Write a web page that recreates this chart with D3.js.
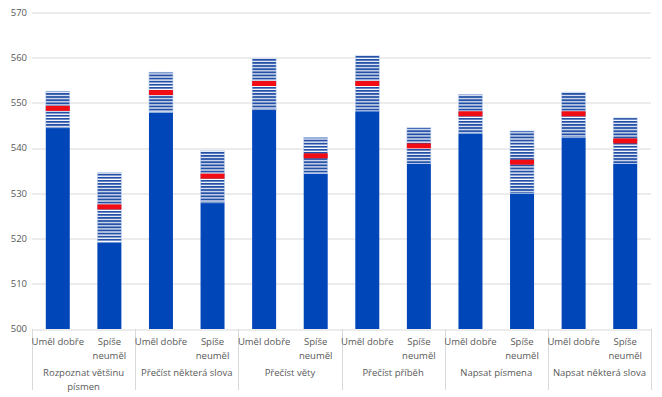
<!DOCTYPE html>
<html>
<head>
<meta charset="utf-8">
<script src="https://cdn.jsdelivr.net/npm/d3@7"></script>
<style>
  body { margin: 0; background: #fff; }
  text { font-family: "Open Sans", "Liberation Sans", sans-serif; fill: #595959; }
</style>
</head>
<body>
<div id="chart"></div>
<script>
// Task groups (two-line labels split with \n)
const tasks = ["Rozpoznat většinu\npísmen", "Přečíst některá slova", "Přečíst věty",
               "Přečíst příběh", "Napsat písmena", "Napsat některá slova"];
const groups = ["Uměl dobře", "Spíše\nneuměl"];

// lower bound, mean, upper bound per task, in the order of groups
const lower = [[544.5, 519.2], [547.9, 527.9], [548.5, 534.4], [548.2, 536.6], [543.3, 530.0], [542.3, 536.6]];
const mean  = [[548.8, 527.0], [552.3, 533.8], [554.3, 538.3], [554.3, 540.5], [547.6, 536.9], [547.6, 541.6]];
const upper = [[552.6, 534.6], [556.8, 539.4], [559.9, 542.4], [560.5, 544.5], [551.9, 543.8], [552.4, 546.7]];

const yTicks = [500, 510, 520, 530, 540, 550, 560, 570];

const margin = { top: 12.5, right: 11, bottom: 68, left: 32 },
      width = 662 - margin.left - margin.right,
      height = 397 - margin.top - margin.bottom;

const svg = d3.select("#chart")
    .append("svg")
    .attr("width", width + margin.left + margin.right)
    .attr("height", height + margin.top + margin.bottom)
    .append("g")
    .attr("transform", `translate(${margin.left},${margin.top})`);

// stripe pattern for the interval part
const defs = svg.append("defs");
const pat = defs.append("pattern")
    .attr("id", "stripes")
    .attr("patternUnits", "userSpaceOnUse")
    .attr("width", 8)
    .attr("height", 3.1);
pat.append("rect").attr("width", 8).attr("height", 3.1).attr("fill", "#ffffff");
pat.append("rect").attr("width", 8).attr("height", 1.9).attr("fill", "#2350a6");

const x0 = d3.scaleBand()
    .domain(tasks)
    .range([0, width]);

const x1 = d3.scalePoint()
    .domain(groups)
    .range([0, x0.bandwidth()])
    .padding(0.5);

const barWidth = x1.step() * 0.465;

const y = d3.scaleLinear()
    .domain([500, 570])
    .range([height, 0]);

// gridlines
svg.selectAll(".grid")
    .data(yTicks)
    .enter()
    .append("line")
    .attr("x1", 0)
    .attr("x2", width)
    .attr("y1", d => Math.round(y(d)) + 0.5)
    .attr("y2", d => Math.round(y(d)) + 0.5)
    .attr("stroke", "#d9d9d9")
    .attr("stroke-width", 1);

// y tick labels
svg.selectAll(".ylab")
    .data(yTicks)
    .enter()
    .append("text")
    .attr("x", -5)
    .attr("y", d => y(d))
    .attr("dy", "0.35em")
    .attr("text-anchor", "end")
    .style("font-size", "9.5px")
    .text(d => d);

// category separators
const seps = tasks.map(t => x0(t)).concat([width]);
svg.selectAll(".sep")
    .data(seps)
    .enter()
    .append("line")
    .attr("x1", d => Math.round(d) + 0.5)
    .attr("x2", d => Math.round(d) + 0.5)
    .attr("y1", height)
    .attr("y2", height + 61)
    .attr("stroke", "#d9d9d9");

// bars
tasks.forEach((task, i) => {
    groups.forEach((grp, j) => {
        const cx = x0(task) + x1(grp);
        const left = cx - barWidth / 2;

        // solid part
        svg.append("rect")
            .attr("x", left)
            .attr("y", y(lower[i][j]))
            .attr("width", barWidth)
            .attr("height", y(500) - y(lower[i][j]))
            .attr("fill", "#0046b9");

        // striped interval
        svg.append("rect")
            .attr("x", left)
            .attr("y", y(upper[i][j]))
            .attr("width", barWidth)
            .attr("height", y(lower[i][j]) - y(upper[i][j]))
            .attr("fill", "url(#stripes)")
            .attr("stroke", "#bcd0f0")
            .attr("stroke-width", 0.6);

        // mean marker
        svg.append("rect")
            .attr("x", left)
            .attr("y", y(mean[i][j]) - 2.5)
            .attr("width", barWidth)
            .attr("height", 5)
            .attr("fill", "#f20c14");

        // group label
        const lines = grp.split("\n");
        const lab = svg.append("text")
            .attr("x", cx)
            .attr("y", height + 16)
            .attr("text-anchor", "middle")
            .style("font-size", "9.5px");
        lines.forEach((l, k) => {
            lab.append("tspan")
                .attr("x", cx)
                .attr("dy", k === 0 ? 0 : 14)
                .text(l);
        });
    });

    // task label
    const tl = task.split("\n");
    const t = svg.append("text")
        .attr("x", x0(task) + x0.bandwidth() / 2)
        .attr("y", height + 47)
        .attr("text-anchor", "middle")
        .style("font-size", "9.5px");
    tl.forEach((l, k) => {
        t.append("tspan")
            .attr("x", x0(task) + x0.bandwidth() / 2)
            .attr("dy", k === 0 ? 0 : 14)
            .text(l);
    });
});
</script>
</body>
</html>
